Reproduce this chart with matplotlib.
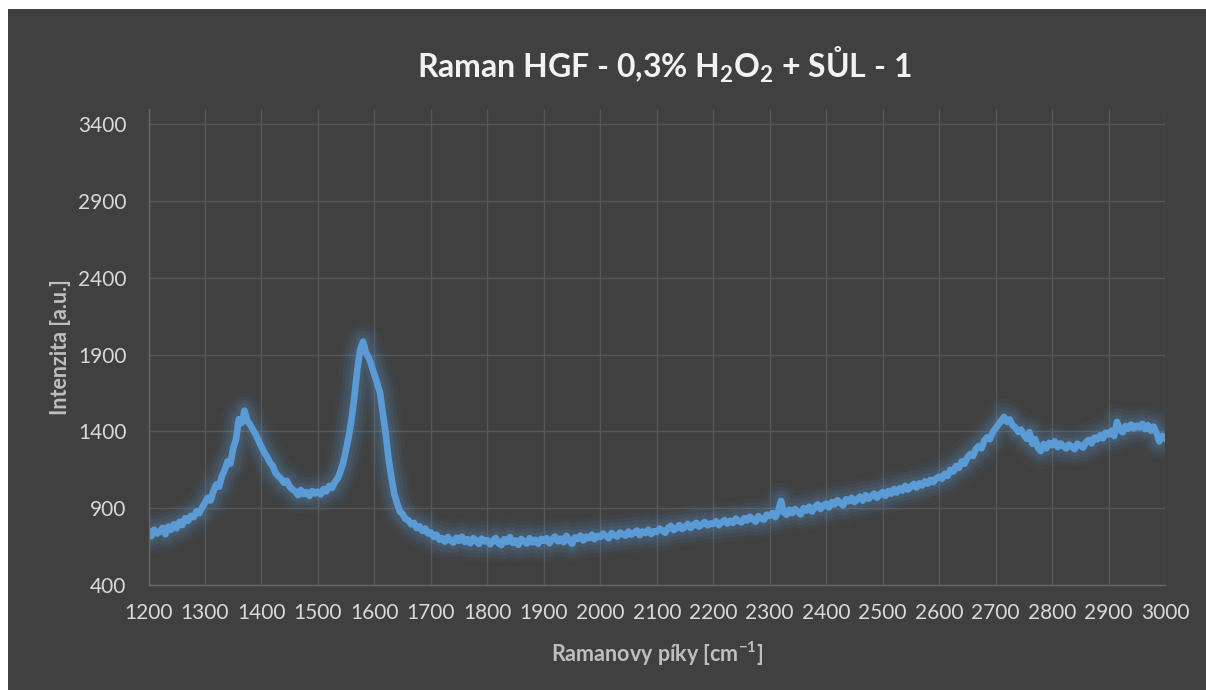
import matplotlib
matplotlib.use("Agg")
import matplotlib.pyplot as plt
from matplotlib.patches import Rectangle
import numpy as np

# Raman spectrum (step 5 cm-1, one row = 100 cm-1)
wavenumber = np.arange(1200, 3001, 5)
intensity = [
    752, 718, 760, 735, 748, 772, 730, 781, 760, 795, 770, 812, 790, 835, 818, 850, 842, 880, 868, 905,            # 1200
    935, 968, 950, 1012, 1055, 1040, 1110, 1150, 1205, 1190, 1290, 1350, 1480, 1455, 1535, 1470, 1445, 1410, 1380, 1340,  # 1300
    1300, 1262, 1235, 1198, 1175, 1130, 1108, 1092, 1065, 1078, 1040, 1022, 1010, 985, 1018, 992, 1005, 980, 1012, 996,  # 1400
    1008, 990, 1025, 1010, 1045, 1032, 1070, 1095, 1140, 1200, 1285, 1375, 1490, 1640, 1810, 1935, 1985, 1915, 1880, 1830,  # 1500
    1770, 1715, 1650, 1515, 1385, 1225, 1105, 995, 935, 880, 862, 830, 822, 795, 805, 770, 782, 752, 768, 735,      # 1600
    742, 712, 728, 695, 705, 682, 712, 690, 676, 708, 688, 715, 680, 698, 672, 705, 690, 668, 702, 684,            # 1700
    692, 665, 688, 706, 672, 660, 698, 680, 712, 674, 690, 662, 700, 686, 670, 705, 678, 694, 668, 700,            # 1800
    688, 705, 672, 698, 715, 684, 702, 678, 720, 695, 668, 710, 700, 722, 690, 715, 705, 728, 698, 720,            # 1900
    712, 735, 720, 705, 738, 725, 715, 742, 730, 722, 748, 728, 740, 755, 725, 748, 738, 760, 732, 750,            # 2000
    745, 768, 755, 740, 772, 785, 758, 770, 790, 765, 778, 798, 772, 790, 805, 780, 795, 810, 788, 800,            # 2100
    798, 815, 790, 808, 822, 800, 818, 805, 832, 815, 808, 835, 820, 845, 828, 812, 848, 835, 825, 858,            # 2200
    850, 868, 842, 880, 948, 872, 858, 890, 868, 895, 878, 860, 900, 885, 910, 878, 905, 925, 895, 918,            # 2300
    930, 905, 940, 925, 952, 935, 918, 958, 945, 968, 940, 960, 975, 950, 985, 962, 978, 995, 968, 990,            # 2400
    1005, 980, 1012, 995, 1025, 1002, 1030, 1015, 1045, 1022, 1040, 1058, 1035, 1062, 1048, 1075, 1060, 1085, 1070, 1095,  # 2500
    1105, 1092, 1125, 1110, 1150, 1138, 1175, 1162, 1205, 1190, 1230, 1252, 1240, 1285, 1305, 1290, 1340, 1362, 1350, 1395,  # 2600
    1420, 1445, 1470, 1495, 1462, 1478, 1440, 1425, 1398, 1412, 1378, 1352, 1395, 1320, 1350, 1295, 1272, 1318, 1290, 1325,  # 2700
    1310, 1335, 1298, 1322, 1305, 1290, 1315, 1300, 1285, 1320, 1308, 1295, 1330, 1345, 1322, 1360, 1348, 1375, 1355, 1392,  # 2800
    1380, 1405, 1370, 1462, 1410, 1395, 1435, 1418, 1445, 1420, 1438, 1425, 1450, 1415, 1440, 1405, 1432, 1390, 1335, 1372,  # 2900
    1355,                                                                                                           # 3000
]
x_ticks = list(range(1200, 3001, 100))
y_ticks = list(range(400, 3401, 500))

BG = "#404040"
LINE = "#5B9BD5"

plt.rcParams["font.family"] = ["Lato", "DejaVu Sans"]
plt.rcParams["mathtext.fontset"] = "custom"
plt.rcParams["mathtext.rm"] = "Lato:bold"
plt.rcParams["mathtext.it"] = "Lato:bold"
plt.rcParams["mathtext.bf"] = "Lato:bold"

fig = plt.figure(figsize=(12.06, 6.90), dpi=100, facecolor="white")
fig.patches.append(Rectangle((8 / 1206, 0), 1, (690 - 9) / 690,
                             transform=fig.transFigure, facecolor=BG,
                             edgecolor="none", zorder=-10))

ax = fig.add_axes([148.5 / 1206, 1 - 585 / 690, (1165 - 148.5) / 1206, (585 - 109) / 690])
ax.set_facecolor(BG)

# soft glow under the line
for lw, a in [(26, 0.05), (20, 0.07), (15, 0.09), (10, 0.12)]:
    ax.plot(wavenumber, intensity, color=LINE, lw=lw, alpha=a,
            solid_capstyle="butt", solid_joinstyle="round")
ax.plot(wavenumber, intensity, color=LINE, lw=4.8, solid_joinstyle="round")

ax.set_xlim(1200, 3000)
ax.set_ylim(400, 3500)
ax.set_xticks(x_ticks)
ax.set_yticks(y_ticks)
ax.grid(True, color="#575757", lw=1.0)
ax.set_axisbelow(True)
for side in ["top", "right"]:
    ax.spines[side].set_visible(False)
for side in ["left", "bottom"]:
    ax.spines[side].set_color("#666666")
    ax.spines[side].set_linewidth(1.0)
ax.tick_params(length=0, labelsize=15, colors="#D9D9D9")
ax.tick_params(axis="x", pad=13)
ax.tick_params(axis="y", pad=16)

ax.set_xlabel(r"Ramanovy píky [cm$^{-1}$]", fontsize=15.5, fontweight="bold",
              color="#BFBFBF", labelpad=12)
ax.set_ylabel("Intenzita [a.u.]", fontsize=15.5, fontweight="bold",
              color="#BFBFBF", labelpad=5)

fig.text(664 / 1206, 1 - 65 / 690, r"Raman HGF - 0,3% H$_2$O$_2$ + SŮL - 1",
         ha="center", va="center", fontsize=23, fontweight="bold", color="#F2F2F2")

fig.savefig("out.png", dpi=100, facecolor=fig.get_facecolor())
